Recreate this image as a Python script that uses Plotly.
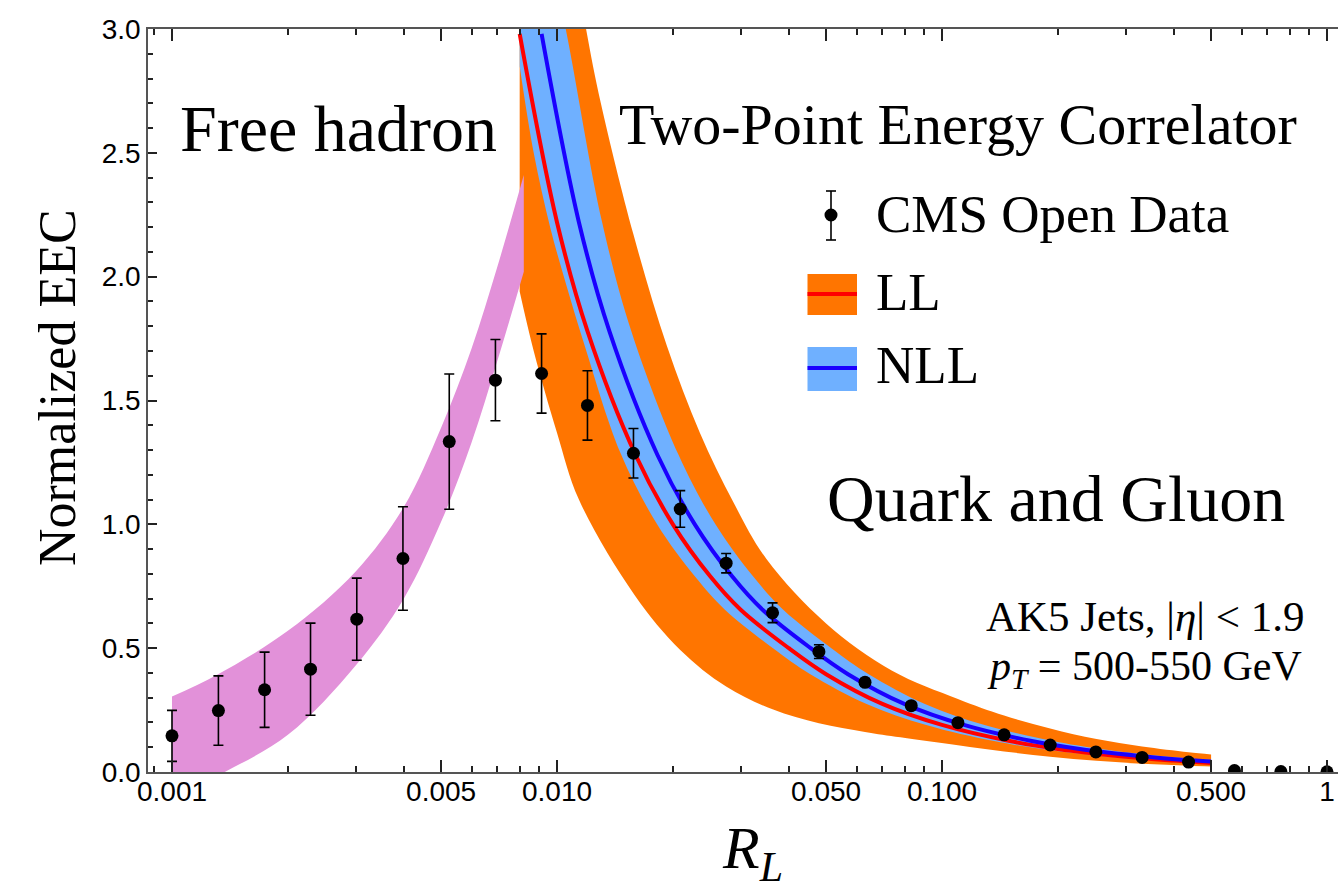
import plotly.graph_objects as go

# ---------------- data ----------------
R_data = [0.001, 0.00132, 0.00174, 0.00229, 0.00302, 0.00398, 0.00525, 0.00692, 0.00912,
          0.0120, 0.0158, 0.0209, 0.0275, 0.0363, 0.0479, 0.0631, 0.0832, 0.110, 0.145,
          0.191, 0.251, 0.331, 0.437, 0.575, 0.759, 1.0]
EEC_data = [0.146, 0.248, 0.332, 0.415, 0.617, 0.862, 1.334, 1.582, 1.609,
            1.480, 1.287, 1.062, 0.843, 0.643, 0.486, 0.362, 0.268, 0.199, 0.150,
            0.109, 0.081, 0.059, 0.040, 0.006, 0.002, 0.001]
EEC_err = [0.103, 0.140, 0.152, 0.186, 0.166, 0.209, 0.273, 0.164, 0.160,
           0.140, 0.100, 0.074, 0.039, 0.040, 0.028, 0.015, 0.012, 0.010, 0.008,
           0.006, 0.005, 0.004, 0.003, 0.002, 0.001, 0.001]

# free hadron band
free_R = [0.001, 0.0013, 0.002, 0.003, 0.004, 0.005, 0.006, 0.007, 0.0082]
free_top = [0.305, 0.39, 0.57, 0.81, 1.07, 1.39, 1.71, 2.04, 2.41]
free_bot = [-0.12, -0.02, 0.15, 0.43, 0.70, 1.01, 1.33, 1.66, 2.02]

# LL band (orange)
ll_lo_R = [0.0080, 0.0087, 0.0100, 0.0114, 0.0159, 0.0209, 0.0275, 0.0363, 0.0479,
           0.0631, 0.078, 0.110, 0.145, 0.191, 0.252, 0.331, 0.437, 0.500]
ll_lo = [1.94, 1.70, 1.37, 1.10, 0.715, 0.493, 0.345, 0.253, 0.197,
         0.162, 0.140, 0.108, 0.083, 0.062, 0.045, 0.033, 0.025, 0.022]
ll_hi_R = [0.0080, 0.0091, 0.0107, 0.0119, 0.0130, 0.0158, 0.0193, 0.0235, 0.0287, 0.035, 0.050,
           0.074, 0.110, 0.145, 0.191, 0.252, 0.331, 0.437, 0.500]
ll_hi = [4.6, 4.05, 3.42, 3.0, 2.70, 2.17, 1.72, 1.37, 1.09, 0.86, 0.60,
         0.41, 0.295, 0.228, 0.176, 0.133, 0.103, 0.080, 0.071]

# LL central (red)
ll_R = [0.008, 0.010, 0.012, 0.016, 0.020, 0.025, 0.030, 0.040, 0.050, 0.070,
        0.100, 0.150, 0.200, 0.300, 0.400, 0.500]
ll_c = [2.98, 2.22, 1.78, 1.28, 1.00, 0.79, 0.655, 0.50, 0.395, 0.275,
        0.19, 0.125, 0.093, 0.062, 0.046, 0.036]

# NLL band (light blue)
nll_lo_R = [0.0080, 0.0087, 0.0096, 0.0106, 0.0117, 0.0146, 0.0182, 0.0228, 0.0273, 0.0364,
            0.0455, 0.0637, 0.091, 0.1365, 0.182, 0.273, 0.364, 0.455, 0.500]
nll_lo = [2.85, 2.50, 2.20, 1.96, 1.74, 1.29, 1.00, 0.79, 0.655, 0.50,
          0.395, 0.275, 0.19, 0.125, 0.093, 0.062, 0.046, 0.036, 0.032]
nll_hi_R = [0.0080, 0.0091, 0.0106, 0.0131, 0.0156, 0.0207, 0.0258, 0.0323, 0.0387, 0.0516, 0.0645,
            0.0903, 0.129, 0.194, 0.258, 0.387, 0.500]
nll_hi = [3.95, 3.48, 2.98, 2.22, 1.78, 1.28, 1.00, 0.79, 0.655, 0.50, 0.395,
          0.275, 0.19, 0.125, 0.093, 0.062, 0.049]

# NLL central (blue)
nll_R = [0.00912, 0.0114, 0.01368, 0.01824, 0.0228, 0.0285, 0.0342, 0.0456, 0.057, 0.0798,
         0.114, 0.171, 0.228, 0.342, 0.456, 0.500]
nll_c = [2.98, 2.22, 1.78, 1.28, 1.00, 0.79, 0.655, 0.50, 0.395, 0.275,
         0.19, 0.125, 0.093, 0.062, 0.046, 0.042]

# axis ticks
x_major = [0.001, 0.005, 0.01, 0.05, 0.1, 0.5, 1]
x_major_text = ["0.001", "0.005", "0.010", "0.050", "0.100", "0.500", "1"]
x_minor = [0.0009, 0.002, 0.003, 0.004, 0.006, 0.007, 0.008, 0.009,
           0.02, 0.03, 0.04, 0.06, 0.07, 0.08, 0.09,
           0.2, 0.3, 0.4, 0.6, 0.7, 0.8, 0.9]
y_major = [0.0, 0.5, 1.0, 1.5, 2.0, 2.5, 3.0]
y_major_text = ["0.0", "0.5", "1.0", "1.5", "2.0", "2.5", "3.0"]
y_minor = [0.1, 0.2, 0.3, 0.4, 0.6, 0.7, 0.8, 0.9, 1.1, 1.2, 1.3, 1.4,
           1.6, 1.7, 1.8, 1.9, 2.1, 2.2, 2.3, 2.4, 2.6, 2.7, 2.8, 2.9]

ORANGE = "#ff7500"
LBLUE = "#6fb0ff"
RED = "#ff0000"
BLUE = "#1a00ff"
PINK = "#e291d9"

X_RANGE = [-3.0623, 0.0286]

fig = go.Figure()

# LL band
fig.add_trace(go.Scatter(x=ll_lo_R, y=ll_lo, mode="lines", line=dict(width=0, shape="spline", color=ORANGE),
                         showlegend=False, hoverinfo="skip"))
fig.add_trace(go.Scatter(x=ll_hi_R, y=ll_hi, mode="lines", line=dict(width=0, shape="spline", color=ORANGE),
                         fill="tonexty", fillcolor=ORANGE, showlegend=False, hoverinfo="skip"))
# NLL band
fig.add_trace(go.Scatter(x=nll_lo_R, y=nll_lo, mode="lines", line=dict(width=0, shape="spline", color=LBLUE),
                         showlegend=False, hoverinfo="skip"))
fig.add_trace(go.Scatter(x=nll_hi_R, y=nll_hi, mode="lines", line=dict(width=0, shape="spline", color=LBLUE),
                         fill="tonexty", fillcolor=LBLUE, showlegend=False, hoverinfo="skip"))
# central curves
fig.add_trace(go.Scatter(x=ll_R, y=ll_c, mode="lines", line=dict(width=4, shape="spline", color=RED),
                         showlegend=False))
fig.add_trace(go.Scatter(x=nll_R, y=nll_c, mode="lines", line=dict(width=4, shape="spline", color=BLUE),
                         showlegend=False))
# free hadron band
fig.add_trace(go.Scatter(x=free_R, y=free_bot, mode="lines", line=dict(width=0, shape="spline", color=PINK),
                         showlegend=False, hoverinfo="skip"))
fig.add_trace(go.Scatter(x=free_R, y=free_top, mode="lines", line=dict(width=0, shape="spline", color=PINK),
                         fill="tonexty", fillcolor=PINK, showlegend=False, hoverinfo="skip"))
# CMS data
fig.add_trace(go.Scatter(x=R_data, y=EEC_data, mode="markers",
                         marker=dict(size=13, color="black"),
                         error_y=dict(type="data", array=EEC_err, color="black", thickness=1.6, width=5),
                         showlegend=False))

W, H = 1338, 894
L, T, B = 148, 29, 122
PW, PH = W - L, H - T - B


def px(xp):
    return (xp - L) / PW


def py(yp):
    return (H - B - yp) / PH


serif = "Liberation Serif"
ann = []


def add_text(text, x, y, size, xanchor="center", angle=0):
    ann.append(dict(text=text, x=px(x), y=py(y), xref="paper", yref="paper", showarrow=False,
                    xanchor=xanchor, yanchor="middle", textangle=angle,
                    font=dict(family=serif, size=size, color="black")))


add_text("Free hadron", 338, 128, 66)
add_text("Quark and Gluon", 1056, 498, 66)
add_text("Two-Point Energy Correlator", 958, 124, 58)
add_text("CMS Open Data", 874, 214, 53, xanchor="left")
add_text("LL", 874, 292, 53, xanchor="left")
add_text("NLL", 874, 365, 53, xanchor="left")
add_text("AK5 Jets, |<i>η</i>| &lt; 1.9", 1145, 616, 43)
add_text("<i>p</i><sub><i>T</i></sub> = 500-550 GeV", 1144, 669, 42)
add_text("Normalized EEC", 57, 388, 52, angle=-90)
add_text("<i>R</i><sub><i>L</i></sub>", 752, 852, 60)

shapes = []
# legend glyphs
shapes.append(dict(type="rect", xref="paper", yref="paper", x0=px(807.5), x1=px(857), y0=py(274), y1=py(315),
                   fillcolor=ORANGE, line=dict(width=0)))
shapes.append(dict(type="line", xref="paper", yref="paper", x0=px(807.5), x1=px(857), y0=py(294), y1=py(294),
                   line=dict(color=RED, width=4)))
shapes.append(dict(type="rect", xref="paper", yref="paper", x0=px(807.5), x1=px(857), y0=py(347), y1=py(391),
                   fillcolor=LBLUE, line=dict(width=0)))
shapes.append(dict(type="line", xref="paper", yref="paper", x0=px(807.5), x1=px(857), y0=py(368), y1=py(368),
                   line=dict(color=BLUE, width=4)))
shapes.append(dict(type="line", xref="paper", yref="paper", x0=px(831), x1=px(831), y0=py(191), y1=py(240),
                   line=dict(color="black", width=1.6)))
for yy in (191, 240):
    shapes.append(dict(type="line", xref="paper", yref="paper", x0=px(826), x1=px(836), y0=py(yy), y1=py(yy),
                       line=dict(color="black", width=1.6)))
shapes.append(dict(type="circle", xref="paper", yref="paper", x0=px(824.5), x1=px(837.5), y0=py(208.5),
                   y1=py(221.5), fillcolor="black", line=dict(width=0)))

tickfont = dict(family="Liberation Sans, Arial, sans-serif", size=28, color="black")
minor_x = dict(tickmode="array", tickvals=x_minor, ticks="inside", ticklen=6, tickwidth=1.5,
               tickcolor="#222", showgrid=False)
fig.update_layout(
    width=W, height=H,
    margin=dict(l=L, r=0, t=T, b=B, pad=0),
    paper_bgcolor="white", plot_bgcolor="white",
    showlegend=False,
    annotations=ann, shapes=shapes,
    xaxis=dict(type="log", range=X_RANGE, tickmode="array", tickvals=x_major, ticktext=x_major_text,
               ticks="inside", ticklen=12, tickwidth=1.5, tickcolor="#222",
               showline=True, linecolor="#555", linewidth=1.5, mirror="allticks",
               showgrid=False, zeroline=False, tickfont=tickfont, minor=minor_x,
               ticklabelstandoff=-6),
    yaxis=dict(range=[0, 3], tickmode="array", tickvals=y_major, ticktext=y_major_text,
               ticks="inside", ticklen=9, tickwidth=1.5, tickcolor="#222",
               showline=True, linecolor="#555", linewidth=1.5, mirror=False,
               showgrid=False, zeroline=False, tickfont=tickfont,
               minor=dict(tickmode="array", tickvals=y_minor, ticks="inside", ticklen=5, tickwidth=1.5,
                          tickcolor="#222", showgrid=False)),
)

fig.write_html("out.html", config={"displayModeBar": False})
